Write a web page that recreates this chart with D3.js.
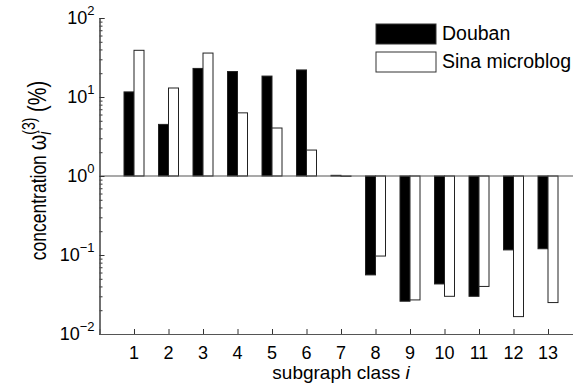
<!DOCTYPE html>
<html lang="en">
<head>
	<meta charset="utf-8">
	<title>Subgraph concentration</title>
	<script type="text/javascript" src="https://cdn.jsdelivr.net/npm/d3@7"></script>
	<style type="text/css">
		body { margin: 0; background: #fff; }
		text { font-family: "Liberation Sans", Arial, sans-serif; fill: #000; }
	</style>
</head>
<body>
	<script type="text/javascript">
		// data
		var classes = [1, 2, 3, 4, 5, 6, 7, 8, 9, 10, 11, 12, 13];
		var douban = [11.6, 4.5, 23, 21, 18.4, 22, 1.02, 0.056, 0.026, 0.043, 0.030, 0.116, 0.12];
		var sina = [39, 13, 36, 6.3, 4.05, 2.13, 0.99, 0.097, 0.027, 0.030, 0.040, 0.0166, 0.025];
		var seriesNames = ["Douban", "Sina microblog"];
		var yExponents = [-2, -1, 0, 1, 2];

		var w = 573;
		var h = 391;
		var padLeft = 99.5, padTop = 18, axisBottom = 334;
		var barW = 10;

		var svg = d3.select("body").append("svg")
			.attr("width", w)
			.attr("height", h);

		var xScale = d3.scaleLinear()
			.domain([0, 14])
			.range([padLeft, padLeft + 14 * 34.5]);

		var yScale = d3.scaleLog()
			.domain([0.01, 100])
			.range([axisBottom, padTop]);

		var base = yScale(1);

		// bars
		var groups = [
			{ name: seriesNames[0], values: douban, fill: "#000", off: -barW },
			{ name: seriesNames[1], values: sina, fill: "#fff", off: 0 }
		];

		groups.forEach(function (g) {
			svg.append("g").selectAll("rect")
				.data(g.values)
				.enter()
				.append("rect")
				.attr("x", function (d, i) { return xScale(classes[i]) + g.off; })
				.attr("y", function (d) { return Math.min(yScale(d), base); })
				.attr("width", barW)
				.attr("height", function (d) { return Math.abs(yScale(d) - base); })
				.attr("fill", g.fill)
				.attr("stroke", "#222")
				.attr("stroke-width", 1);
		});

		// baseline at 10^0
		svg.append("line")
			.attr("x1", padLeft).attr("x2", w)
			.attr("y1", base).attr("y2", base)
			.attr("stroke", "#555").attr("stroke-width", 1.2);

		// left axis
		var minor = [];
		for (var e = -2; e < 2; e++) {
			for (var m = 2; m < 10; m++) minor.push(m * Math.pow(10, e));
		}
		var yAxisMinor = d3.axisRight(yScale).tickValues(minor).tickSize(3).tickFormat("");
		var yAxisMajor = d3.axisRight(yScale)
			.tickValues(yExponents.map(function (e) { return Math.pow(10, e); }))
			.tickSize(5).tickFormat("");

		svg.append("g").attr("transform", "translate(" + padLeft + ",0)").call(yAxisMinor);
		svg.append("g").attr("transform", "translate(" + padLeft + ",0)").call(yAxisMajor);
		svg.selectAll(".domain").attr("stroke", "#555").attr("stroke-width", 1.2);
		svg.selectAll(".tick line").attr("stroke", "#333");

		// y tick labels 10^e
		yExponents.forEach(function (e) {
			var t = svg.append("text")
				.attr("x", padLeft - 5)
				.attr("y", yScale(Math.pow(10, e)) + 6)
				.attr("text-anchor", "end")
				.attr("font-size", "18px");
			t.append("tspan").text("10");
			t.append("tspan")
				.attr("font-size", "13px")
				.attr("dy", -9)
				.text(e < 0 ? "\u2212" + (-e) : e);
		});

		// bottom axis
		var xAxis = d3.axisTop(xScale).tickValues(classes).tickSize(5).tickFormat("");
		var xg = svg.append("g").attr("transform", "translate(0," + axisBottom + ")").call(xAxis);
		xg.select(".domain").attr("stroke", "#555").attr("stroke-width", 1.2);
		xg.selectAll(".tick line").attr("stroke", "#333");

		svg.append("g").selectAll("text")
			.data(classes)
			.enter()
			.append("text")
			.attr("x", function (d) { return xScale(d); })
			.attr("y", 359)
			.attr("text-anchor", "middle")
			.attr("font-size", "18px")
			.text(function (d) { return d; });

		// x label
		var xl = svg.append("text")
			.attr("x", 341)
			.attr("y", 379)
			.attr("text-anchor", "middle")
			.attr("font-size", "19px");
		xl.append("tspan").text("subgraph class ");
		xl.append("tspan").attr("font-style", "italic").text("i");

		// y label
		var yl = svg.append("text")
			.attr("transform", "translate(46,170.5) scale(1.25,1) rotate(-90)")
			.attr("text-anchor", "middle")
			.attr("font-size", "17.5px");
		yl.append("tspan").text("concentration ");
		yl.append("tspan").attr("font-size", "20px").text("\u03c9");
		var sup = yl.append("tspan").attr("font-size", "14px").attr("dy", -9).text("(3)");
		var supW = sup.node().getComputedTextLength();
		yl.append("tspan").attr("font-size", "14px").attr("font-style", "italic")
			.attr("dx", -supW).attr("dy", 13).text("i");
		yl.append("tspan").attr("font-size", "20px").attr("dx", supW - 3).attr("dy", -4).text(" (%)");

		// legend
		var legend = svg.append("g");
		groups.forEach(function (g, i) {
			legend.append("rect")
				.attr("x", 376)
				.attr("y", 24 + i * 28)
				.attr("width", 60)
				.attr("height", 20)
				.attr("fill", g.fill)
				.attr("stroke", "#333");
			legend.append("text")
				.attr("x", 442)
				.attr("y", 40 + i * 28)
				.attr("font-size", "19.5px")
				.text(g.name);
		});
	</script>
</body>
</html>
